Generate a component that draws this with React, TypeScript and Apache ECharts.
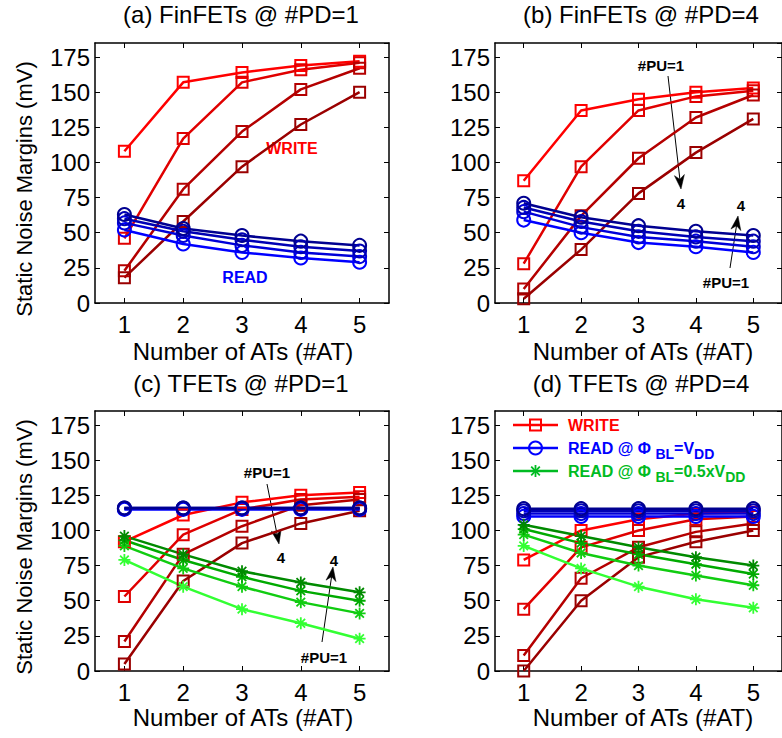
import React, { useEffect, useRef } from 'react';
import * as echarts from 'echarts';

// ---------- data ----------
const atCategories = ['1', '2', '3', '4', '5'];
const yMin = 0;
const yMax = 185;
const yInterval = 25;

// (a) FinFETs @ #PD=1
const finPd1WritePu1 = [108, 157, 164, 169, 172];
const finPd1WritePu2 = [46, 117, 157, 166, 171];
const finPd1WritePu3 = [23, 81, 122, 152, 167];
const finPd1WritePu4 = [18, 58, 97, 127, 150];
const finPd1ReadPu1 = [52, 42, 36, 32, 29];
const finPd1ReadPu2 = [57, 48, 41, 36, 33];
const finPd1ReadPu3 = [60, 51, 45, 40, 37];
const finPd1ReadPu4 = [63, 53, 48, 44, 41];

// (b) FinFETs @ #PD=4
const finPd4WritePu1 = [87, 137, 145, 150, 153];
const finPd4WritePu2 = [28, 97, 137, 147, 151];
const finPd4WritePu3 = [10, 62, 103, 132, 148];
const finPd4WritePu4 = [3, 38, 78, 107, 131];
const finPd4ReadPu1 = [59, 50, 43, 40, 36];
const finPd4ReadPu2 = [65, 54, 47, 44, 40];
const finPd4ReadPu3 = [68, 58, 51, 47, 44];
const finPd4ReadPu4 = [71, 61, 55, 51, 48];

// (c) TFETs @ #PD=1
const tfPd1WritePu1 = [92, 111, 120, 125, 127];
const tfPd1WritePu2 = [53, 97, 115, 122, 124];
const tfPd1WritePu3 = [21, 83, 103, 118, 122];
const tfPd1WritePu4 = [5, 64, 91, 105, 114];
const tfPd1ReadVddPu1 = [115, 115, 115, 115, 115];
const tfPd1ReadVddPu2 = [115.5, 115.5, 115.5, 115.5, 115.5];
const tfPd1ReadVddPu3 = [116, 116, 116, 116, 116];
const tfPd1ReadVddPu4 = [116, 116, 116, 116, 116];
const tfPd1ReadHalfPu1 = [79, 60, 44, 34, 23];
const tfPd1ReadHalfPu2 = [89, 73, 60, 49, 41];
const tfPd1ReadHalfPu3 = [93, 79, 67, 57, 50];
const tfPd1ReadHalfPu4 = [96, 83, 71, 63, 56];

// (d) TFETs @ #PD=4
const tfPd4WritePu1 = [79, 100, 108, 112, 113];
const tfPd4WritePu2 = [44, 88, 100, 108, 110];
const tfPd4WritePu3 = [11, 66, 88, 99, 105];
const tfPd4WritePu4 = [0, 50, 81, 92, 100];
const tfPd4ReadVddPu1 = [110, 110, 110, 110, 110];
const tfPd4ReadVddPu2 = [112, 112, 112, 112, 112];
const tfPd4ReadVddPu3 = [114, 114, 114, 114, 114];
const tfPd4ReadVddPu4 = [115.5, 115.5, 115.5, 115.5, 115.5];
const tfPd4ReadHalfPu1 = [89, 73, 60, 51, 45];
const tfPd4ReadHalfPu2 = [97, 84, 75, 68, 61];
const tfPd4ReadHalfPu3 = [101, 91, 83, 76, 69];
const tfPd4ReadHalfPu4 = [104, 96, 88, 81, 75];

const panelTitles = ['(a) FinFETs @ #PD=1', '(b) FinFETs @ #PD=4', '(c) TFETs @ #PD=1', '(d) TFETs @ #PD=4'];
const xAxisName = 'Number of ATs (#AT)';
const yAxisName = 'Static Noise Margins (mV)';

// ---------- styles / layout ----------
const FONT = 'Liberation Sans';
const writeColors = ['#ff0000', '#e00000', '#b40000', '#9a0000'];
const blueColors = ['#0000ff', '#0000d8', '#0000b4', '#000090'];
const greenColors = ['#33ff33', '#11cc11', '#00aa00', '#008a00'];
const legendGreen = '#00bb22';

const panels = [
  { title: panelTitles[0], left: 95, top: 43, height: 260, nameGap: 48,
    write: [finPd1WritePu1, finPd1WritePu2, finPd1WritePu3, finPd1WritePu4],
    readVdd: [finPd1ReadPu1, finPd1ReadPu2, finPd1ReadPu3, finPd1ReadPu4], readHalf: null as number[][] | null },
  { title: panelTitles[1], left: 495, top: 43, height: 260, nameGap: 48,
    write: [finPd4WritePu1, finPd4WritePu2, finPd4WritePu3, finPd4WritePu4],
    readVdd: [finPd4ReadPu1, finPd4ReadPu2, finPd4ReadPu3, finPd4ReadPu4], readHalf: null },
  { title: panelTitles[2], left: 95, top: 411, height: 260, nameGap: 46,
    write: [tfPd1WritePu1, tfPd1WritePu2, tfPd1WritePu3, tfPd1WritePu4],
    readVdd: [tfPd1ReadVddPu1, tfPd1ReadVddPu2, tfPd1ReadVddPu3, tfPd1ReadVddPu4],
    readHalf: [tfPd1ReadHalfPu1, tfPd1ReadHalfPu2, tfPd1ReadHalfPu3, tfPd1ReadHalfPu4] },
  { title: panelTitles[3], left: 495, top: 411, height: 260, nameGap: 46,
    write: [tfPd4WritePu1, tfPd4WritePu2, tfPd4WritePu3, tfPd4WritePu4],
    readVdd: [tfPd4ReadVddPu1, tfPd4ReadVddPu2, tfPd4ReadVddPu3, tfPd4ReadVddPu4],
    readHalf: [tfPd4ReadHalfPu1, tfPd4ReadHalfPu2, tfPd4ReadHalfPu3, tfPd4ReadHalfPu4] },
];
const GRID_W = 294;

const ASTERISK = 'path://M0 -6 L0 6 M-6 0 L6 0 M-4.3 -4.3 L4.3 4.3 M-4.3 4.3 L4.3 -4.3';

function arrow(x1: number, y1: number, x2: number, y2: number) {
  const dx = x2 - x1, dy = y2 - y1;
  const L = Math.hypot(dx, dy);
  const ux = dx / L, uy = dy / L;
  const hl = 14, hw = 5;
  const bx = x2 - ux * hl, by = y2 - uy * hl;
  const nx = x2 - ux * hl * 0.7, ny = y2 - uy * hl * 0.7;
  return [
    { type: 'line', shape: { x1, y1, x2: nx, y2: ny }, style: { stroke: '#000', lineWidth: 1 }, silent: true },
    { type: 'polygon', shape: { points: [[x2, y2], [bx - uy * hw, by + ux * hw], [nx, ny], [bx + uy * hw, by - ux * hw]] },
      style: { fill: '#000', stroke: '#000', lineWidth: 0.5 }, silent: true },
  ];
}

function label(text: string, x: number, y: number, fill: string, size = 15, bold = true) {
  return { type: 'text', silent: true, style: { text, x, y, fill, fontSize: size, fontWeight: bold ? 'bold' : 'normal', fontFamily: FONT, align: 'center', verticalAlign: 'middle' } };
}

export default function App() {
  const ref = useRef<HTMLDivElement>(null);
  useEffect(() => {
    document.body.style.margin = '0';
    if (!ref.current) return;
    const chart = echarts.init(ref.current, undefined, { renderer: 'svg' });
    const grid: any[] = [], xAxis: any[] = [], yAxis: any[] = [], series: any[] = [];
    const axisLine = { show: true, onZero: false, lineStyle: { color: '#000', width: 1.5 } };
    const tick = { show: true, inside: true, length: 5, lineStyle: { color: '#000', width: 1 } };
    panels.forEach((p, i) => {
      grid.push({ left: p.left, top: p.top, width: GRID_W, height: p.height });
      xAxis.push({ type: 'category', gridIndex: i, data: atCategories, boundaryGap: true, position: 'bottom', axisLine,
        axisTick: { ...tick, alignWithLabel: true, interval: 0 },
        axisLabel: { interval: 0, fontSize: 24, color: '#000', margin: 9, fontFamily: FONT }, splitLine: { show: false } });
      xAxis.push({ type: 'category', gridIndex: i, data: atCategories, boundaryGap: true, position: 'top', axisLine,
        axisTick: { ...tick, alignWithLabel: true, interval: 0 }, axisLabel: { show: false }, splitLine: { show: false } });
      yAxis.push({ type: 'value', gridIndex: i, min: yMin, max: yMax, interval: yInterval, position: 'left', axisLine, axisTick: tick,
        axisLabel: { fontSize: 24, color: '#000', margin: 5, fontFamily: FONT, showMaxLabel: false }, splitLine: { show: false } });
      yAxis.push({ type: 'value', gridIndex: i, min: yMin, max: yMax, interval: yInterval, position: 'right', axisLine, axisTick: tick,
        axisLabel: { show: false }, splitLine: { show: false } });

      const common = { type: 'line', xAxisIndex: 2 * i, yAxisIndex: 2 * i, showAllSymbol: true, silent: true };
      p.write.forEach((d, k) => series.push({ ...common, name: `WRITE #PU=${k + 1}`, data: d, symbol: 'rect', symbolSize: 11,
        lineStyle: { color: writeColors[k], width: 2.5 }, itemStyle: { color: 'rgba(0,0,0,0)', borderColor: writeColors[k], borderWidth: 2 } }));
      p.readVdd.forEach((d, k) => series.push({ ...common, name: `READ VDD #PU=${k + 1}`, data: d, symbol: 'circle', symbolSize: 13,
        lineStyle: { color: blueColors[k], width: 2.5 }, itemStyle: { color: 'rgba(0,0,0,0)', borderColor: blueColors[k], borderWidth: 2 } }));
      if (p.readHalf) p.readHalf.forEach((d, k) => series.push({ ...common, name: `READ 0.5VDD #PU=${k + 1}`, data: d, symbol: ASTERISK, symbolSize: 12,
        lineStyle: { color: greenColors[k], width: 2.5 }, itemStyle: { color: 'rgba(0,0,0,0)', borderColor: greenColors[k], borderWidth: 1.8 } }));
    });

    const graphic: any[] = [];
    const titleY = [14, 14, 383, 383];
    panels.forEach((p, i) => {
      const cx = p.left + GRID_W / 2;
      graphic.push(label(p.title, cx - 1, titleY[i], '#000', 24, false));
      graphic.push(label(xAxisName, cx + 1, p.top + p.height + p.nameGap, '#000', 24, false));
    });
    [189, 547].forEach((cy) => {
      graphic.push({ type: 'text', silent: true, rotation: Math.PI / 2, x: 24, y: cy,
        style: { text: yAxisName, x: 0, y: 0, fill: '#000', fontSize: 22, fontFamily: FONT, align: 'center', verticalAlign: 'middle' } });
    });
    // panel (a) labels
    graphic.push(label('WRITE', 292, 148, '#ff0000', 16));
    graphic.push(label('READ', 245, 277, '#0000ff', 16));
    // panel (b) annotations
    graphic.push(label('#PU=1', 661, 65, '#000', 15));
    graphic.push(...arrow(668, 76, 681, 189));
    graphic.push(label('4', 681, 203, '#000', 15));
    graphic.push(label('#PU=1', 726, 282, '#000', 15));
    graphic.push(...arrow(730, 268, 738, 216));
    graphic.push(label('4', 741, 205, '#000', 15));
    // panel (c) annotations
    graphic.push(label('#PU=1', 267, 472, '#000', 15));
    graphic.push(...arrow(267, 484, 279, 544));
    graphic.push(label('4', 281, 557, '#000', 15));
    graphic.push(label('#PU=1', 324, 657, '#000', 15));
    graphic.push(...arrow(322, 642, 333, 567));
    graphic.push(label('4', 334, 560, '#000', 15));

    // legend in panel (d)
    const lx1 = 513, lx2 = 558, lmx = 535.5, ltx = 568;
    const rows = [425, 448, 471];
    graphic.push({ type: 'line', silent: true, shape: { x1: lx1, y1: rows[0], x2: lx2, y2: rows[0] }, style: { stroke: '#ff0000', lineWidth: 2.5 } });
    graphic.push({ type: 'rect', silent: true, shape: { x: lmx - 5.5, y: rows[0] - 5.5, width: 11, height: 11 }, style: { fill: 'none', stroke: '#ff0000', lineWidth: 2 } });
    graphic.push({ type: 'text', silent: true, style: { text: 'WRITE', x: ltx, y: rows[0], fill: '#ff0000', fontSize: 16, fontWeight: 'bold', fontFamily: FONT, align: 'left', verticalAlign: 'middle' } });
    graphic.push({ type: 'line', silent: true, shape: { x1: lx1, y1: rows[1], x2: lx2, y2: rows[1] }, style: { stroke: '#0000ff', lineWidth: 2.5 } });
    graphic.push({ type: 'circle', silent: true, shape: { cx: lmx, cy: rows[1], r: 6.5 }, style: { fill: 'none', stroke: '#0000ff', lineWidth: 2 } });
    const rich = (c: string) => ({
      a: { fontSize: 16, fontWeight: 'bold', fontFamily: FONT, fill: c, lineHeight: 18 },
      s: { fontSize: 14, fontWeight: 'bold', fontFamily: FONT, fill: c, padding: [12, 0, 0, 0], lineHeight: 18 },
    });
    graphic.push({ type: 'text', silent: true, style: { text: '{a|READ @ Φ }{s|BL}{a|=V}{s|DD}', x: ltx, y: rows[1], fill: '#0000ff', rich: rich('#0000ff'), align: 'left', verticalAlign: 'middle' } });
    graphic.push({ type: 'line', silent: true, shape: { x1: lx1, y1: rows[2], x2: lx2, y2: rows[2] }, style: { stroke: legendGreen, lineWidth: 2.5 } });
    const ar = 6;
    [[0, -ar, 0, ar], [-ar, 0, ar, 0], [-ar * 0.72, -ar * 0.72, ar * 0.72, ar * 0.72], [-ar * 0.72, ar * 0.72, ar * 0.72, -ar * 0.72]].forEach((s) => {
      graphic.push({ type: 'line', silent: true, shape: { x1: lmx + s[0], y1: rows[2] + s[1], x2: lmx + s[2], y2: rows[2] + s[3] }, style: { stroke: legendGreen, lineWidth: 1.8 } });
    });
    graphic.push({ type: 'text', silent: true, style: { text: '{a|READ @ Φ }{s|BL}{a|=0.5xV}{s|DD}', x: ltx, y: rows[2], fill: legendGreen, rich: rich(legendGreen), align: 'left', verticalAlign: 'middle' } });

    chart.setOption({
      animation: false,
      backgroundColor: '#fff',
      textStyle: { fontFamily: FONT },
      grid, xAxis, yAxis, series, graphic,
    });
    return () => chart.dispose();
  }, []);
  return <div ref={ref} style={{ width: 782, height: 738 }} />;
}
